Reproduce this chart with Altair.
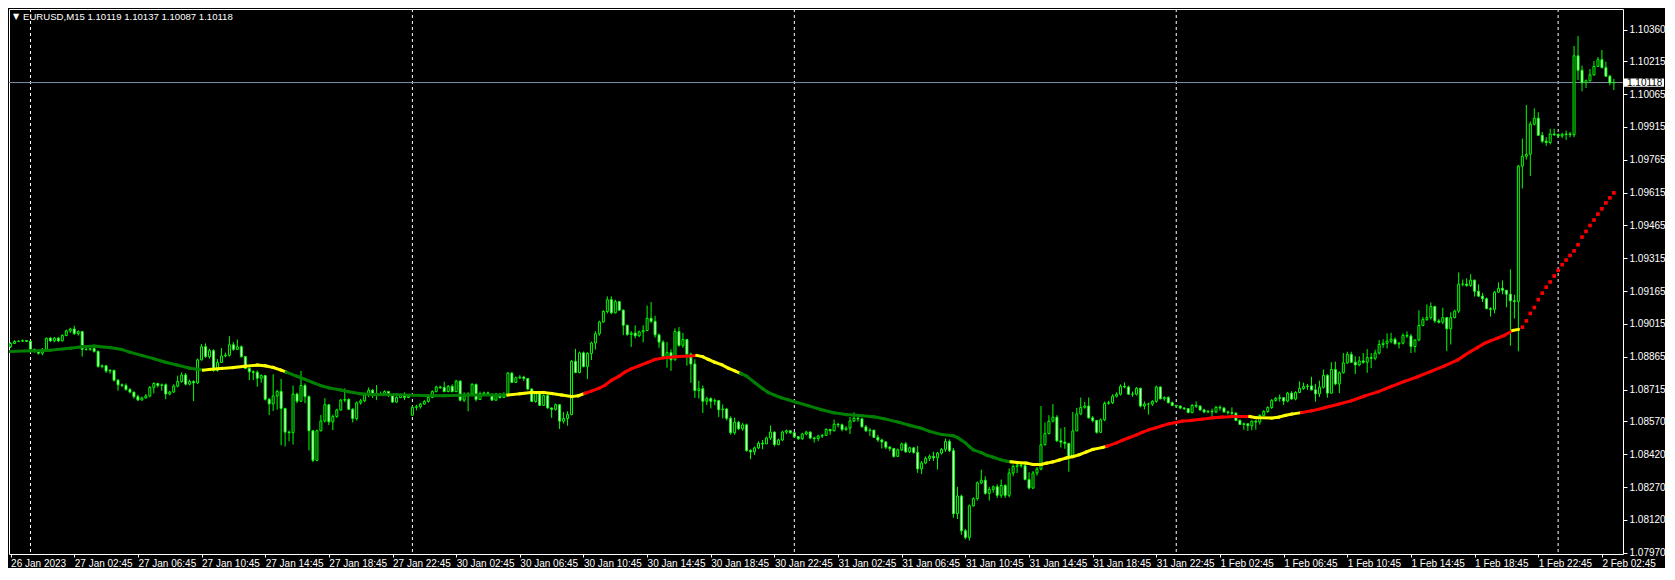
import altair as alt
import pandas as pd

# ---------------- data (prices stored as points above 1.08000) ----------------
BASE = 1.08

opens = [
911,926,935,936,939,936,899,890,881,899, 950,938,950,938,962,983,992,971,980,899,
899,902,890,821,824,800,803,758,737,734, 716,704,683,668,677,686,725,743,734,737,
695,704,731,752,782,740,752,746,851,911, 866,893,803,839,869,872,920,899,911,866,
812,797,794,767,779,671,650,686,707,629, 521,518,695,662,734,683,527,392,527,572,
646,568,592,622,667,670,625,583,655,664, 691,712,694,697,697,706,688,658,679,691,
679,598,634,637,649,661,679,706,727,724, 706,730,706,754,667,685,697,739,670,697,
700,694,667,694,679,694,790,748,769,772, 766,718,661,697,643,688,631,625,646,571,
583,601,844,793,883,820,880,928,970,1024, 1072,1126,1066,1117,1078,1009,967,973,961,979,
985,1041,1027,965,932,866,884,851,980,917, 944,877,832,711,719,662,674,662,665,623,
626,584,518,566,536,554,437,431,449,470, 467,494,521,464,485,521,527,518,500,491,
512,521,494,491,503,506,533,527,557,554, 533,539,572,584,581,545,527,530,497,485,
476,452,446,410,440,467,431,449,428,353, 380,401,410,404,425,442,478,436,148,229,
70,40,184,217,289,301,241,259,271,232, 277,232,334,364,370,367,304,265,334,352,
463,514,571,589,481,475,469,406,526,604, 634,640,586,574,520,577,652,655,685,694,
730,727,694,694,721,640,649,649,661,727, 673,679,655,643,640,631,628,610,643,640,
622,613,616,613,634,631,613,610,607,574, 556,559,550,571,567,597,615,633,666,675,
678,663,699,672,702,720,729,732,714,696, 726,780,699,807,741,792,837,876,840,828,
846,840,861,858,882,921,927,936,945,924, 927,963,960,912,942,1008,1035,1044,1095,1029,
1023,1044,993,1044,1074,1197,1197,1191,1215,1164, 1142,1130,1085,1082,1160,1178,1169,1151,1121,1118,
1736,1781,1790,1928,1955,1877,1850,1844,1883,1880, 1874,1880,1883,1880,2240,2174,2117,2126,2153,2192,
2222,2186,2147,2117]

closes = [
926,935,936,939,936,899,890,881,899,950, 938,950,938,962,983,992,971,980,899,899,
902,890,821,824,800,803,758,737,734,716, 704,683,668,677,686,725,743,734,737,695,
704,731,752,782,740,752,746,851,911,866, 893,803,839,869,872,920,899,911,866,812,
797,794,767,779,671,650,686,707,629,521, 518,695,662,734,683,527,392,527,572,646,
568,592,622,667,670,625,583,655,664,691, 712,694,697,697,706,688,658,679,691,679,
685,634,637,649,661,679,706,727,724,706, 730,706,754,667,685,697,739,670,697,700,
694,667,694,679,694,790,748,769,772,766, 718,661,697,643,688,631,625,646,571,583,
601,844,793,883,820,880,928,970,1024,1072, 1126,1066,1117,1078,1009,967,973,961,979,985,
1041,1027,965,932,866,884,851,980,917,944, 877,832,711,719,662,674,662,665,623,626,
584,518,566,536,554,437,431,449,470,467, 494,521,464,485,521,527,518,500,491,512,
521,494,491,503,506,533,527,557,554,533, 539,572,584,581,545,527,530,497,485,476,
452,446,410,440,467,431,449,428,353,380, 401,410,404,425,442,478,436,148,229,70,
40,184,217,289,301,241,259,271,232,277, 232,334,364,370,367,304,265,334,352,463,
514,571,589,481,475,469,406,526,604,634, 640,586,574,520,577,652,655,685,694,730,
727,694,694,721,640,649,649,661,727,673, 679,655,643,640,631,628,610,643,640,622,
613,616,613,634,631,613,610,607,574,556, 559,550,571,567,597,615,633,666,675,678,
663,699,672,702,720,729,732,714,696,726, 780,699,807,741,792,837,876,840,828,846,
840,861,858,882,921,927,936,945,924,927, 963,960,912,942,1008,1035,1044,1095,1029,1023,
1044,993,1044,1074,1197,1197,1191,1215,1164,1142, 1130,1085,1082,1160,1178,1169,1151,1121,1118,1736,
1781,1790,1928,1955,1877,1850,1844,1883,1880,1874, 1880,1883,1880,2240,2174,2117,2126,2153,2192,2222,
2186,2147,2117,2118]

highs = [
932,941,941,944,941,939,902,893,905,953, 956,956,956,968,989,998,1007,986,983,905,
905,908,893,830,827,809,806,764,743,743, 722,704,692,683,695,731,749,746,743,743,
710,740,779,794,791,761,758,857,923,926, 902,899,854,905,884,959,932,944,917,869,
818,803,803,785,782,677,785,713,764,632, 527,734,701,800,743,689,530,533,599,676,
649,601,628,673,721,676,631,661,673,697, 725,718,736,706,712,709,694,685,697,703,
691,643,646,655,667,685,712,733,733,751, 736,739,760,757,703,703,745,742,706,706,
706,697,700,700,703,796,796,775,781,778, 766,721,703,700,694,694,634,652,649,613,
616,850,901,889,889,886,934,982,1030,1078, 1141,1141,1126,1120,1081,1012,982,1009,985,1009,
1099,1115,1052,971,941,932,899,995,1001,974, 947,884,854,755,734,683,680,674,668,647,
632,593,587,572,563,560,443,455,479,485, 500,551,524,491,527,533,530,521,503,518,
527,524,500,509,512,539,536,578,563,560, 548,590,611,593,587,554,539,530,509,491,
479,458,449,446,473,476,455,452,458,389, 410,419,431,431,448,491,487,448,271,235,
79,190,223,295,349,319,271,277,283,304, 283,355,373,379,376,388,337,343,361,640,
565,598,649,598,538,544,472,613,631,679, 658,679,595,577,583,661,664,694,703,739,
748,733,706,727,724,661,655,667,733,730, 685,685,661,646,643,634,628,649,661,643,
628,622,628,640,643,634,619,634,613,580, 565,559,574,574,603,621,639,672,681,693,
681,705,708,708,753,747,741,774,741,756, 807,786,840,843,798,882,888,888,867,867,
882,900,882,897,942,945,972,975,954,933, 972,981,969,945,1077,1047,1104,1113,1098,1038,
1089,1047,1068,1080,1251,1218,1224,1242,1218,1196, 1157,1136,1091,1166,1205,1214,1169,1265,1148,1742,
1862,2015,1940,2000,1982,1892,1868,1907,1907,1886, 1889,1898,1892,2285,2330,2195,2132,2180,2216,2234,
2267,2213,2153,2135]

lows = [
905,923,932,935,932,893,884,875,872,896, 932,932,932,935,959,974,965,962,866,893,
893,884,815,812,791,788,752,710,725,710, 698,674,662,665,674,680,698,725,710,671,
689,701,725,746,734,734,662,740,848,860, 857,797,797,839,863,866,893,896,860,809,
758,758,728,746,665,599,617,623,461,455, 479,464,653,659,653,437,383,389,524,565,
553,530,586,619,658,622,565,574,646,658, 680,676,667,688,688,682,655,655,676,667,
676,595,620,628,646,655,676,703,718,703, 703,703,703,661,658,616,685,661,670,685,
688,664,664,673,679,694,745,745,763,754, 712,658,655,640,640,628,586,619,535,560,
550,598,790,790,817,763,850,898,961,1021, 1063,1060,1063,1075,964,961,910,949,955,931,
982,1019,952,906,854,815,801,848,911,906, 824,746,677,674,608,644,629,644,590,584,
575,509,509,530,527,431,397,416,443,443, 467,485,455,461,479,512,512,494,485,485,
506,488,473,479,494,503,509,524,542,524, 527,512,566,569,542,521,503,494,476,446,
443,434,404,407,434,425,425,422,335,329, 374,389,389,350,418,431,430,130,124,52,
31,25,181,208,283,235,208,244,220,220, 220,223,319,334,358,301,259,262,322,346,
460,511,565,475,451,445,340,406,526,598, 628,583,565,514,517,571,646,649,679,688,
721,691,682,688,634,625,601,640,655,670, 664,652,640,631,625,622,607,607,631,619,
607,607,595,607,619,610,601,598,571,553, 532,526,529,532,555,594,609,627,660,660,
645,657,669,666,699,714,714,711,660,681, 720,678,696,735,699,789,834,837,786,822,
834,792,813,849,876,906,903,927,921,903, 921,951,882,885,936,1005,1029,1035,1020,1017,
1014,891,921,1041,1065,1188,1185,1185,1140,1139, 1115,1082,1049,1064,1157,1151,1091,916,1040,890,
1634,1766,1691,1922,1874,1841,1829,1835,1874,1865, 1865,1856,1868,1868,2129,2078,2093,2123,2150,2189,
2183,2144,2105,2084]

# moving average: bar position, value (points), colour of the following segment
ma_bar = [0,5,10,15,18,21,25,28,30,33,36,39,42,45,48.5,50,53,56,59,62,64,66,68,69.3,
          72,74,76,78,80,83,85,88,91,97,103,109,115,125,128,131,134,136,138.5,141,142.7,
          144.3,146,148,149.4,151,153,154.4,156,158,160,162,164,167,170,172.5,174,175.4,177,
          178.7,180.4,182,183.5,185,187,189,190.4,192,193.7,195.4,197,200.4,203.7,207,210,
          214,217,219.5,223,226,229,231,234,237,238,239,240,241,242,244,245.4,247,249,250.4,
          251.5,253,255.4,257,259,260.4,262,263.7,265.4,267,268.7,270.4,272,274.5,275.5,278,
          279.5,281.2,283,284.5,286.2,288,289.5,291.2,293,294.5,297,299.5,302,304.5,307,311.5,
          313,317,318.7,320.4,322,324.5,327,330.4,333.7,337,340.4,343.7,347,350.4,353.7,357,
          360.4,363.7,365.4,367,368.7,370.4,372,373.7,375.4,377.6,379]
ma_val = [889,892,895,904,911,914,907,898,886,871,856,840,827,813,804,807,812,816,822,827,824,816,804,795,
          776,762,747,733,723,713,705,696,693,692,688,687,690,690,696,702,702,697,690,683,687,
          698,708,722,735,757,777,795,810,824,838,853,860,865,868,871,865,853,840,
          829,813,801,789,777,748,720,702,690,678,669,660,642,624,609,601,
          596,591,582,567,552,538,524,510,504,496,484,472,455,440,427,415,406,394,388,
          385,382,379,373,373,379,385,394,403,409,418,430,442,451,456,472,
          484,496,508,520,532,541,550,559,565,571,575,580,586,589,592,592,
          587,585,589,597,603,610,618,633,648,664,686,705,729,753,774,798,
          823,850,871,889,907,926,938,950,962,985,990]
ma_col = (["G"] * 14 + ["Y"] * 9 + ["G"] * 14 + ["Y"] * 8 + ["R"] * 14 + ["Y"] * 7 +
          ["G"] * 32 + ["Y"] * 14 + ["R"] * 17 + ["Y"] * 6 + ["R"] * 20 + ["Y"] * 2)

dot_bar = [380,381,382,383,384,385,386,387,388,389,390,391,392,393,394,395,396,397,398,399,400,401,402,403]
dot_val = [1000,1029,1063,1090,1126,1156,1183,1207,1234,1260,1286,1307,1328,1349,1377,1412,1438,1465,
           1490,1517,1541,1568,1591,1614]

sep_bars = [5, 101, 197, 293, 389]
tick_bars = [0,16,32,48,64,80,96,112,128,144,160,176,192,208,224,240,256,272,288,304,320,336,352,368,384,400]
tick_labels = ["26 Jan 2023","27 Jan 02:45","27 Jan 06:45","27 Jan 10:45","27 Jan 14:45","27 Jan 18:45",
               "27 Jan 22:45","30 Jan 02:45","30 Jan 06:45","30 Jan 10:45","30 Jan 14:45","30 Jan 18:45",
               "30 Jan 22:45","31 Jan 02:45","31 Jan 06:45","31 Jan 10:45","31 Jan 14:45","31 Jan 18:45",
               "31 Jan 22:45","1 Feb 02:45","1 Feb 06:45","1 Feb 10:45","1 Feb 14:45","1 Feb 18:45",
               "1 Feb 22:45","2 Feb 02:45"]
price_ticks = [1.10360,1.10215,1.10065,1.09915,1.09765,1.09615,1.09465,1.09315,1.09165,1.09015,
               1.08865,1.08715,1.08570,1.08420,1.08270,1.08120,1.07970]
bid = 1.10118
header = "EURUSD,M15  1.10119 1.10137 1.10087 1.10118"

# ---------------- layout ----------------
W, H = 1614, 545
FONT = "Liberation Sans"
LIME = "#00ff00"

def pr(v):
    return BASE + v / 100000.0

n = len(closes)
cdf = pd.DataFrame({
    "i": list(range(n)),
    "o": [pr(v) for v in opens],
    "c": [pr(v) for v in closes],
    "h": [pr(v) for v in highs],
    "l": [pr(v) for v in lows],
})
cdf["xlo"] = cdf["i"] - 0.25
cdf["xhi"] = cdf["i"] + 0.25
cdf["kind"] = ["bear" if c < o else "bull" for o, c in zip(cdf["o"], cdf["c"])]

segs = pd.DataFrame({
    "x": ma_bar[:-1], "x2": ma_bar[1:],
    "y": [pr(v) for v in ma_val[:-1]], "y2": [pr(v) for v in ma_val[1:]],
    "col": ma_col[:len(ma_bar) - 1],
})
dots = pd.DataFrame({"i": dot_bar, "v": [pr(v) for v in dot_val]})
seps = pd.DataFrame({"i": sep_bars})
bdf = pd.DataFrame({"p": [bid], "p1": [bid - 0.00019], "p2": [bid + 0.00019]})

label_js = "[" + ",".join("'%s'" % s for s in tick_labels) + "][round(datum.value / 16)]"

xs = alt.Scale(domain=[-0.4, 405.3], nice=False, zero=False)
xa = alt.Axis(values=tick_bars, labelExpr=label_js, orient="bottom", grid=False, domain=False,
              ticks=True, tickColor="white", tickSize=3, labelColor="white", labelFont=FONT,
              labelFontSize=10, labelAlign="left", labelBaseline="top", labelPadding=1,
              labelFlush=False, labelOverlap=False, title=None)
ys = alt.Scale(domain=[1.07964, 1.10454], nice=False, zero=False)
ya = alt.Axis(values=price_ticks, format=".5f", orient="right", grid=False, domain=False,
              ticks=True, tickColor="white", tickSize=4, labelColor="white", labelFont=FONT,
              labelFontSize=10, labelPadding=2, labelOverlap=False, labelFlush=False, title=None)

def X(f):
    return alt.X(f, type="quantitative", scale=xs, axis=xa)

def Y(f):
    return alt.Y(f, type="quantitative", scale=ys, axis=ya)

sep_layer = alt.Chart(seps).mark_rule(color="white", strokeWidth=1, strokeDash=[3, 3]).encode(x=X("i"))
bid_layer = alt.Chart(bdf).mark_rule(color="#7f8fa6", strokeWidth=1).encode(y=Y("p"))
wick_layer = alt.Chart(cdf).mark_rule(color=LIME, strokeWidth=1).encode(x=X("i"), y=Y("l"), y2="h")
body_layer = alt.Chart(cdf).mark_rect(stroke=LIME, strokeWidth=1).encode(
    x=X("xlo"), x2="xhi", y=Y("o"), y2="c",
    fill=alt.Fill("kind:N", scale=alt.Scale(domain=["bull", "bear"], range=["#000000", "#ffffff"]), legend=None),
)
ma_layer = alt.Chart(segs).mark_rule(strokeWidth=3, strokeCap="square").encode(
    x=X("x"), x2="x2", y=Y("y"), y2="y2",
    color=alt.Color("col:N", scale=alt.Scale(domain=["G", "Y", "R"], range=["#008000", "#ffff00", "#ff0000"]), legend=None),
)
dot_layer = alt.Chart(dots).mark_square(size=13, color="#ff0000", opacity=1).encode(x=X("i"), y=Y("v"))

hdr = pd.DataFrame({"t": [header]})
tri_layer = alt.Chart(hdr).mark_text(text="\u25bc", color="white", fontSize=8, font="DejaVu Sans",
                                     align="center", baseline="middle").encode(x=alt.value(7), y=alt.value(8))
hdr_layer = alt.Chart(hdr).mark_text(color="white", fontSize=9.6, font=FONT, align="left",
                                     baseline="middle").encode(text="t:N", x=alt.value(14), y=alt.value(8))
box_layer = alt.Chart(bdf).mark_rect(fill="white").encode(
    x=alt.value(W + 1), x2=alt.value(W + 41), y=Y("p1"), y2="p2")
box_text = alt.Chart(bdf).mark_text(text="1.10118", color="black", fontSize=10, font=FONT,
                                    align="left", baseline="middle").encode(x=alt.value(W + 4), y=Y("p"))

chart = alt.layer(
    sep_layer, bid_layer, wick_layer, body_layer, ma_layer, dot_layer,
    tri_layer, hdr_layer, box_layer, box_text,
).properties(
    width=W, height=H, background="black",
    autosize=alt.AutoSizeParams(type="none"),
    padding={"left": 1, "top": 1, "right": 42, "bottom": 14},
).configure_view(stroke="white", strokeWidth=1, fill="black")

chart.save("out.html", embed_options={"renderer": "svg", "actions": False})
